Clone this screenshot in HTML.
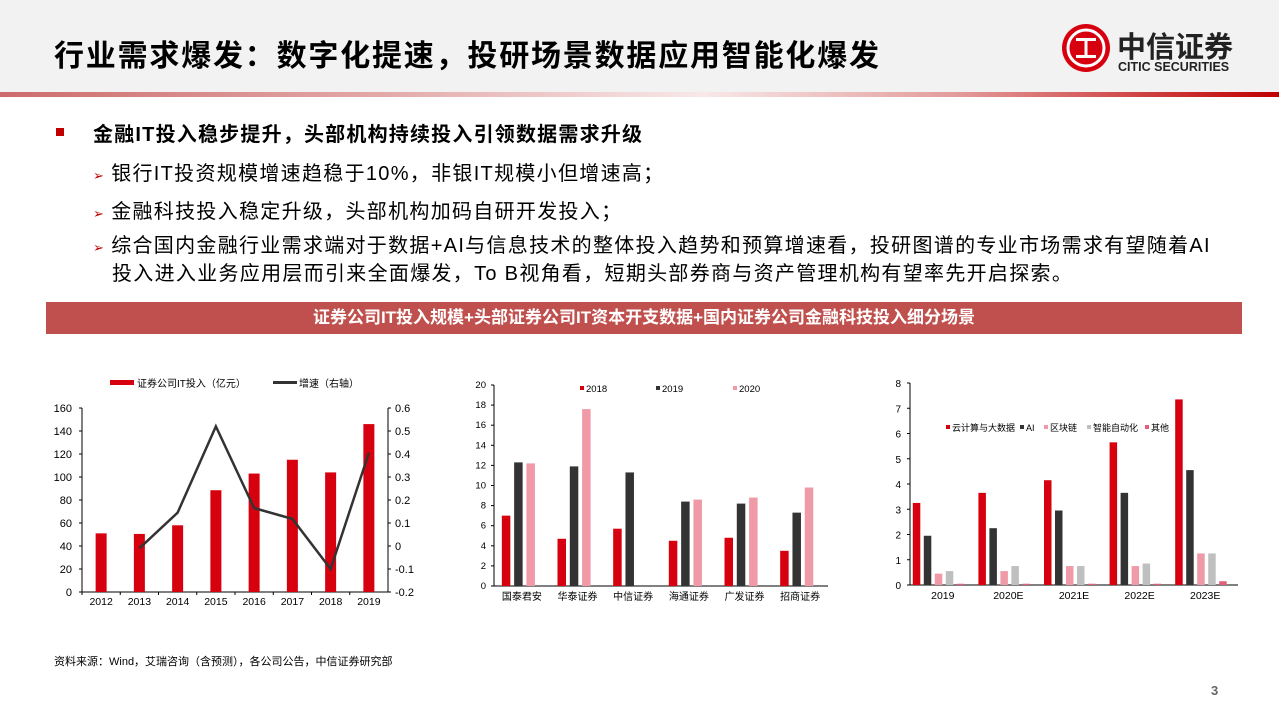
<!DOCTYPE html>
<html><head><meta charset="utf-8">
<style>
body{margin:0;width:1279px;height:719px;position:relative;background:#fff;font-family:"Liberation Sans","Noto Sans CJK SC",sans-serif;overflow:hidden}
.hdr{position:absolute;left:0;top:0;width:1279px;height:92px;background:#f2f2f2}
.bar{position:absolute;left:0;top:92px;width:1279px;height:5px;background:linear-gradient(90deg,#cd6c6c 0%,#e3a9a9 30%,#f8e8e8 55%,#e39a9a 75%,#c00000 100%)}
.t{position:absolute;white-space:nowrap;color:#000}
.ban{position:absolute;left:46px;top:302px;width:1196px;height:32px;background:#c0504d;color:#fff;font-weight:bold;font-size:17px;text-align:center;line-height:32px}
.arr{color:#c00000;font-size:13px;margin-right:6px}
.sub{font-size:20px;letter-spacing:1.3px}
</style></head><body>
<div class="hdr"></div>
<div class="bar"></div>
<div class="t" style="left:54px;top:31px;font-size:30px;font-weight:bold;letter-spacing:1.8px">行业需求爆发：数字化提速，投研场景数据应用智能化爆发</div>
<div style="position:absolute;left:1062px;top:24px;width:48px;height:48px;border-radius:50%;background:#d7000f">
<svg width="48" height="48"><circle cx="24" cy="24" r="18" fill="none" stroke="#fff" stroke-width="3"/><rect x="14" y="14" width="20" height="3" fill="#fff"/><rect x="14" y="31" width="20" height="3" fill="#fff"/><rect x="22.5" y="14" width="3" height="20" fill="#fff"/></svg></div>
<div class="t" style="left:1117px;top:24px;font-size:29px;font-weight:bold;color:#222">中信证券</div>
<div class="t" style="left:1118px;top:60px;font-size:12.5px;font-weight:bold;color:#222">CITIC SECURITIES</div>

<div style="position:absolute;left:56px;top:128px;width:8px;height:8px;background:#c00000"></div>
<div class="t" style="left:93px;top:118px;font-size:20px;font-weight:bold;letter-spacing:1.2px">金融IT投入稳步提升，头部机构持续投入引领数据需求升级</div>
<div class="t sub" style="left:93px;top:157px"><span class="arr">➢</span>银行IT投资规模增速趋稳于10%，非银IT规模小但增速高；</div>
<div class="t sub" style="left:93px;top:195px"><span class="arr">➢</span>金融科技投入稳定升级，头部机构加码自研开发投入；</div>
<div class="t sub" style="left:93px;top:233px;line-height:27px"><span class="arr">➢</span>综合国内金融行业需求端对于数据+AI与信息技术的整体投入趋势和预算增速看，投研图谱的专业市场需求有望随着AI<br><span style="margin-left:19px">投入进入业务应用层而引来全面爆发，To B视角看，短期头部券商与资产管理机构有望率先开启探索。</span></div>
<div class="ban">证券公司IT投入规模+头部证券公司IT资本开支数据+国内证券公司金融科技投入细分场景</div>

<svg id="c" width="1279" height="719" style="position:absolute;left:0;top:0" font-family="Liberation Sans, Noto Sans CJK SC, sans-serif"></svg>
<div class="t" style="left:54px;top:653px;font-size:11px">资料来源：Wind，艾瑞咨询（含预测），各公司公告，中信证券研究部</div>
<div class="t" style="left:1211px;top:683px;font-size:13px;font-weight:bold;color:#666">3</div>

<script>
const years1=["2012","2013","2014","2015","2016","2017","2018","2019"];
const itSpend=[51,50.5,58,88.5,103,115,104,146];
const growth=[null,-0.01,0.145,0.52,0.165,0.118,-0.1,0.405];
const leftTicks1=[0,20,40,60,80,100,120,140,160];
const rightTicks1=[-0.2,-0.1,0,0.1,0.2,0.3,0.4,0.5,0.6];

const firms=["国泰君安","华泰证券","中信证券","海通证券","广发证券","招商证券"];
const capex2018=[7,4.7,5.7,4.5,4.8,3.5];
const capex2019=[12.3,11.9,11.3,8.4,8.2,7.3];
const capex2020=[12.2,17.6,0,8.6,8.8,9.8];
const ticks2=[0,2,4,6,8,10,12,14,16,18,20];

const years3=["2019","2020E","2021E","2022E","2023E"];
const cloud=[3.25,3.65,4.15,5.65,7.35];
const ai=[1.95,2.25,2.95,3.65,4.55];
const chain=[0.45,0.55,0.75,0.75,1.25];
const auto=[0.55,0.75,0.75,0.85,1.25];
const other=[0.05,0.05,0.05,0.05,0.15];
const ticks3=[0,1,2,3,4,5,6,7,8];

const svg=document.getElementById('c');
const NS="http://www.w3.org/2000/svg";
function mk(tag,at,parent){const e=document.createElementNS(NS,tag);for(const k in at)e.setAttribute(k,at[k]);(parent||svg).appendChild(e);return e;}
function txt(x,y,s,size,anchor,parent){const e=mk('text',{x:x,y:y,'font-size':size,'text-anchor':anchor||'middle',fill:'#000'},parent);e.textContent=s;return e;}

// Chart 1
const g1=mk('g',{});


const x0=82,x1=388,yTop=408,yBot=592;
const y1=v=>yBot-(v/160)*(yBot-yTop);
const y1r=v=>yBot-((v+0.2)/0.8)*(yBot-yTop);
const bw1=(x1-x0)/years1.length;
mk('line',{x1:x0,y1:yTop,x2:x0,y2:yBot,stroke:'#000'},g1);
mk('line',{x1:x1,y1:yTop,x2:x1,y2:yBot,stroke:'#000'},g1);
mk('line',{x1:x0,y1:yBot,x2:x1,y2:yBot,stroke:'#000'},g1);
leftTicks1.forEach(v=>{mk('line',{x1:x0-3,y1:y1(v),x2:x0,y2:y1(v),stroke:'#000'},g1);const t=txt(x0-10,y1(v)+4,v,11,'end',g1);});
rightTicks1.forEach(v=>{mk('line',{x1:x1,y1:y1r(v),x2:x1+3,y2:y1r(v),stroke:'#000'},g1);const t=txt(x1+7,y1r(v)+4,String(v),11,'start',g1);});
years1.forEach((yr,i)=>{const cx=x0+bw1*(i+0.5);
 const r=mk('rect',{x:cx-5.5,y:y1(itSpend[i]),width:11,height:yBot-y1(itSpend[i]),fill:'#d7000f'},g1);
 
 
 mk('line',{x1:x0+bw1*i,y1:yBot,x2:x0+bw1*i,y2:yBot+3,stroke:'#000'},g1);
 txt(cx,yBot+13,yr,10.5,'middle',g1);});
let pts=[];growth.forEach((v,i)=>{if(v!==null)pts.push((x0+bw1*(i+0.5))+','+y1r(v));});
const ln=mk('polyline',{points:pts.join(' '),fill:'none',stroke:'#333',"stroke-width":2.5},g1);


mk('rect',{x:110,y:380,width:24,height:5,fill:'#d7000f'},g1);
txt(137,387,'证券公司IT投入（亿元）',10,'start',g1);
mk('rect',{x:273,y:381,width:24,height:3,fill:'#333'},g1);
txt(299,387,'增速（右轴）',10,'start',g1);

// Chart 2
const g2=mk('g',{});


const a0=494,a1=828,aTop=385,aBot=586;
const y2=v=>aBot-(v/20)*(aBot-aTop);
const gw=(a1-a0)/firms.length;
mk('line',{x1:a0,y1:aTop,x2:a0,y2:aBot,stroke:'#000'},g2);
mk('line',{x1:a0,y1:aBot,x2:a1,y2:aBot,stroke:'#000'},g2);
ticks2.forEach(v=>{mk('line',{x1:a0-3,y1:y2(v),x2:a0,y2:y2(v),stroke:'#000'},g2);txt(a0-8,y2(v)+3,v,9.5,'end',g2);});
const s2=[[capex2018,'#d7000f'],[capex2019,'#333'],[capex2020,'#ef9aa6']];
firms.forEach((f,i)=>{const cx=a0+gw*(i+0.5);
 s2.forEach((s,j)=>{const v=s[0][i];if(v<=0)return;const r=mk('rect',{x:cx-20+j*12.3,y:y2(v),width:8.5,height:aBot-y2(v),fill:s[1]},g2);
  
  });
 txt(cx,aBot+14,f,10,'middle',g2);});
[['2018','#d7000f',580],['2019','#333',656],['2020','#ef9aa6',733]].forEach(l=>{mk('rect',{x:l[2],y:386,width:4,height:4,fill:l[1]},g2);txt(l[2]+6,392,l[0],9.5,'start',g2);});

// Chart 3
const g3=mk('g',{});


const b0=910,b1=1238,bTop=383,bBot=585;
const y3=v=>bBot-(v/8)*(bBot-bTop);
const gw3=(b1-b0)/years3.length;
mk('line',{x1:b0,y1:bTop,x2:b0,y2:bBot,stroke:'#000'},g3);
mk('line',{x1:b0,y1:bBot,x2:b1,y2:bBot,stroke:'#000'},g3);
ticks3.forEach(v=>{mk('line',{x1:b0-3,y1:y3(v),x2:b0,y2:y3(v),stroke:'#000'},g3);txt(b0-9,y3(v)+4,v,10,'end',g3);});
const s3=[[cloud,'#d7000f'],[ai,'#333'],[chain,'#ef9aa6'],[auto,'#bfbfbf'],[other,'#e0607a']];
years3.forEach((yr,i)=>{const cx=b0+gw3*(i+0.5);
 s3.forEach((s,j)=>{const v=s[0][i];const r=mk('rect',{x:cx-30+j*11,y:y3(v),width:7.5,height:bBot-y3(v),fill:s[1]},g3);
  
  });
 txt(cx,bBot+14,yr,10.5,'middle',g3);});
[['云计算与大数据','#d7000f',946],['AI','#333',1020],['区块链','#ef9aa6',1044],['智能自动化','#bfbfbf',1087],['其他','#e0607a',1145]].forEach(l=>{mk('rect',{x:l[2],y:425,width:4,height:4,fill:l[1]},g3);txt(l[2]+6,431,l[0],9,'start',g3);});
</script>
</body></html>
